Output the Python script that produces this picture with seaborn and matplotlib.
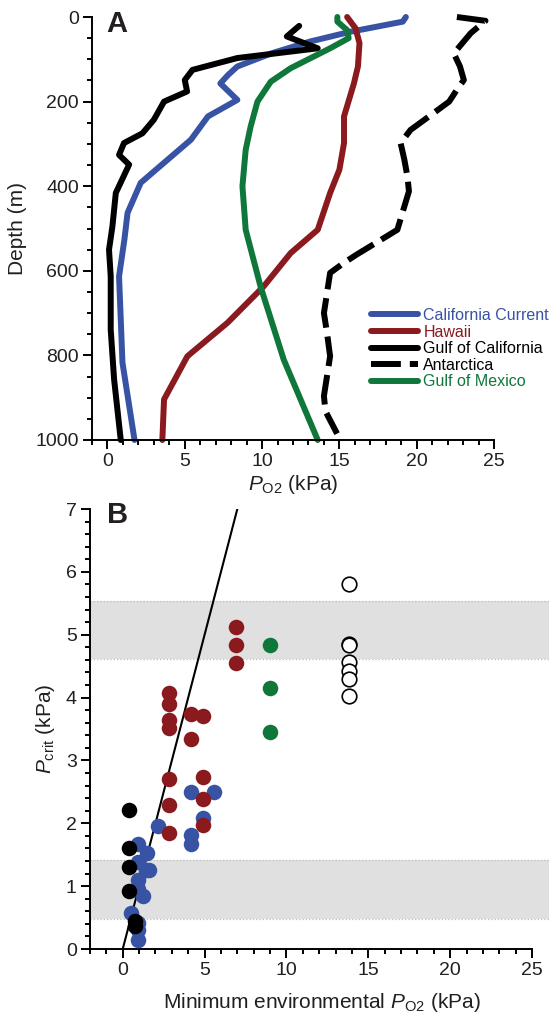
import matplotlib
matplotlib.use("Agg")
import matplotlib.pyplot as plt
from matplotlib.ticker import MultipleLocator
import seaborn as sns

# ---- panel A: oxygen profiles (PO2 in kPa vs depth in m) ----
cal_depth = [0, 11, 35, 58, 86, 117, 137, 157, 196, 235, 290, 392, 463, 525, 613, 817, 1000]
cal_po2 = [19.3, 19.1, 15.7, 13.1, 10.6, 8.4, 7.8, 7.3, 8.4, 6.5, 5.4, 2.15, 1.3, 1.1, 0.75, 0.97, 1.75]

haw_depth = [0, 27, 62, 117, 157, 235, 298, 361, 416, 503, 558, 637, 723, 802, 904, 1000]
haw_po2 = [15.5, 16.05, 16.3, 16.2, 15.94, 15.3, 15.3, 15.0, 14.4, 13.6, 11.85, 10.1, 7.76, 5.17, 3.66, 3.55]

gcal_depth = [21, 46, 74, 97, 125, 149, 176, 200, 243, 275, 298, 326, 349, 416, 495, 550, 613, 739, 857, 1000]
gcal_po2 = [12.4, 11.6, 13.6, 8.4, 5.5, 5.0, 5.15, 3.66, 3.0, 2.26, 1.07, 0.75, 1.4, 0.54, 0.32, 0.1, 0.21, 0.21, 0.43, 0.86]

ant_depth = [0, 9, 38, 86, 117, 149, 172, 200, 243, 267, 298, 337, 377, 412, 448, 503, 522, 562, 581, 605, 700, 747, 802, 896, 932, 985]
ant_po2 = [22.6, 24.45, 23.5, 22.4, 22.8, 23.05, 22.6, 22.1, 20.5, 19.6, 18.96, 19.2, 19.4, 19.5, 19.2, 18.75, 17.9, 16.1, 15.3, 14.4, 14.0, 14.2, 14.4, 14.0, 14.1, 14.85]

gom_depth = [0, 11, 31, 50, 74, 121, 153, 200, 259, 314, 400, 503, 637, 810, 1000]
gom_po2 = [14.87, 14.87, 15.5, 15.6, 14.4, 11.85, 10.56, 9.7, 9.26, 8.94, 8.73, 8.94, 9.9, 11.4, 13.6]

# ---- panel B: Pcrit vs minimum environmental PO2 ----
cc_min = [0.96, 1.51, 0.96, 1.45, 1.6, 0.96, 0.96, 1.23, 0.5, 0.96, 0.96, 0.96, 2.18, 4.2, 5.56, 4.91, 4.2, 4.2]
cc_pcrit = [1.67, 1.53, 1.39, 1.26, 1.25, 1.10, 0.96, 0.84, 0.57, 0.42, 0.31, 0.15, 1.95, 2.49, 2.49, 2.08, 1.82, 1.67]

hw_min = [2.85, 2.85, 2.85, 2.85, 2.85, 2.85, 2.85, 4.2, 4.2, 4.91, 4.91, 4.91, 4.91, 6.94, 6.94, 6.94]
hw_pcrit = [4.08, 3.89, 3.65, 3.51, 2.70, 2.29, 1.85, 3.74, 3.34, 3.71, 2.74, 2.38, 1.97, 5.12, 4.84, 4.55]

gc_min = [0.41, 0.41, 0.41, 0.41, 0.72, 0.72]
gc_pcrit = [2.21, 1.60, 1.31, 0.92, 0.44, 0.37]

gm_min = [9.0, 9.0, 9.0]
gm_pcrit = [4.84, 4.15, 3.46]

an_min = [13.8, 13.8, 13.8, 13.8, 13.8, 13.8, 13.8]
an_pcrit = [5.81, 4.85, 4.83, 4.57, 4.43, 4.29, 4.02]

fit_x = [0, 7.2]
fit_y = [0, 7.2]

bands = [(4.62, 5.53), (0.48, 1.41)]

blue = "#3953a4"
red = "#8b1a1e"
green = "#10773b"
ink = "#231f20"

sns.set_style("ticks")
plt.rcParams['font.family'] = ['Liberation Sans', 'DejaVu Sans']
plt.rcParams['mathtext.fontset'] = 'custom'
plt.rcParams['mathtext.rm'] = 'Liberation Sans'
plt.rcParams['mathtext.it'] = 'Liberation Sans:italic'
plt.rcParams['mathtext.bf'] = 'Liberation Sans:bold'
plt.rcParams['text.color'] = ink
plt.rcParams['axes.labelcolor'] = ink
plt.rcParams['xtick.color'] = 'black'
plt.rcParams['ytick.color'] = 'black'
plt.rcParams['xtick.labelcolor'] = ink
plt.rcParams['ytick.labelcolor'] = ink

fig = plt.figure(figsize=(5.49, 10.17), dpi=100)
W, H = 549, 1017
axA = fig.add_axes([92 / W, 1 - 440 / H, 402 / W, 423 / H])
axB = fig.add_axes([90 / W, 1 - 949 / H, 442 / W, 440 / H])

lw = 4.3
profiles = [
    (cal_po2, cal_depth, blue, '-', "California Current"),
    (haw_po2, haw_depth, red, '-', "Hawaii"),
    (gcal_po2, gcal_depth, 'black', '-', "Gulf of California"),
    (ant_po2, ant_depth, 'black', (0, (5, 1.5)), "Antarctica"),
    (gom_po2, gom_depth, green, '-', "Gulf of Mexico"),
]
for xs, ys, c, ls, lab in profiles:
    sns.lineplot(x=xs, y=ys, sort=False, estimator=None, color=c, lw=lw,
                 linestyle=ls, label=lab, ax=axA, clip_on=False)

axA.set_xlim(-1, 25)
axA.set_ylim(1000, 0)
axA.xaxis.set_major_locator(MultipleLocator(5))
axA.xaxis.set_minor_locator(MultipleLocator(1))
axA.yaxis.set_major_locator(MultipleLocator(200))
axA.yaxis.set_minor_locator(MultipleLocator(50))
axA.set_xlabel(r'$\mathit{P}_{\mathrm{O2}}$ (kPa)', fontsize=15, labelpad=2)
axA.set_ylabel('Depth (m)', fontsize=15, labelpad=6)

leg = axA.legend(loc='upper left', bbox_to_anchor=(0.695, 0.312), frameon=False,
                 fontsize=11.5, handlelength=2.9, handletextpad=0.35,
                 labelspacing=0.1, borderpad=0, borderaxespad=0)
for txt, (_, _, c, _, _) in zip(leg.get_texts(), profiles):
    txt.set_color(c)
for h in leg.get_lines():
    h.set_linewidth(lw)

# panel B
for lo, hi in bands:
    axB.fill_between([-2, 26.2], lo, hi, color='#e0e0e0', lw=0, zorder=0, clip_on=False)
    for v in (lo, hi):
        axB.plot([-2, 26.2], [v, v], color='#bdbdbd', lw=0.9, ls=':', zorder=0.5, clip_on=False)

sns.lineplot(x=fit_x, y=fit_y, color='black', lw=1.5, ax=axB, zorder=2)
ms = 125
sns.scatterplot(x=cc_min, y=cc_pcrit, color=blue, s=ms, linewidth=0, ax=axB, zorder=3)
sns.scatterplot(x=hw_min, y=hw_pcrit, color=red, s=ms, linewidth=0, ax=axB, zorder=3)
sns.scatterplot(x=gc_min, y=gc_pcrit, color='black', s=ms, linewidth=0, ax=axB, zorder=3)
sns.scatterplot(x=gm_min, y=gm_pcrit, color=green, s=ms, linewidth=0, ax=axB, zorder=3)
sns.scatterplot(x=an_min, y=an_pcrit, facecolor='white', edgecolor='black', s=110,
                linewidth=1.2, ax=axB, zorder=3)

axB.set_xlim(-2, 25)
axB.set_ylim(0, 7)
axB.xaxis.set_major_locator(MultipleLocator(5))
axB.xaxis.set_minor_locator(MultipleLocator(1))
axB.yaxis.set_major_locator(MultipleLocator(1))
axB.yaxis.set_minor_locator(MultipleLocator(0.2))
axB.set_xlabel(r'Minimum environmental $\mathit{P}_{\mathrm{O2}}$ (kPa)', fontsize=15, labelpad=8)
axB.xaxis.set_label_coords(0.525, -0.095)
axB.set_ylabel(r'$\mathit{P}_{\mathrm{crit}}$ (kPa)', fontsize=15, labelpad=6)

for ax in (axA, axB):
    sns.despine(ax=ax)
    for sp in ('left', 'bottom'):
        ax.spines[sp].set_linewidth(1.4)
        ax.spines[sp].set_color('black')
    ax.tick_params(which='major', length=6.5, width=1.4, labelsize=14, pad=3)
    ax.tick_params(which='minor', length=3.5, width=1.4)

fig.text(106 / W, 1 - 10 / H, 'A', fontsize=21, fontweight='bold', va='top', ha='left')
fig.text(107 / W, 1 - 501 / H, 'B', fontsize=21, fontweight='bold', va='top', ha='left')

fig.savefig('out.png', dpi=100)
